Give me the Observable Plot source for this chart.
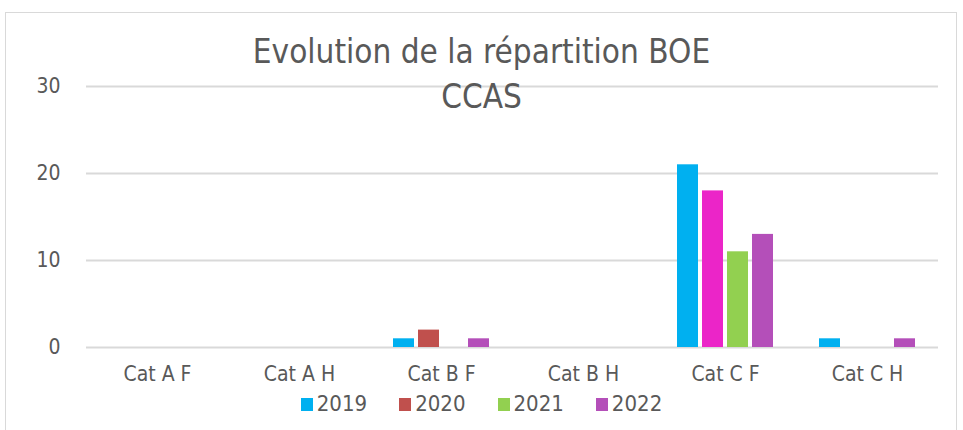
<!DOCTYPE html>
<html>
<head>
<meta charset="utf-8">
<script src="https://cdn.jsdelivr.net/npm/d3@7"></script>
<script src="https://cdn.jsdelivr.net/npm/@observablehq/plot@0.6"></script>
<style>
  html, body { margin: 0; padding: 0; background: #fff; overflow: hidden; }
  #wrap { position: relative; width: 963px; height: 430px; font-family: "DejaVu Sans Condensed", "Liberation Sans Narrow", sans-serif; color: #595959; }
  #frame { position: absolute; left: 5px; top: 12px; width: 952px; height: 430px; border: 1px solid #d9d9d9; box-sizing: border-box; }
  #title { position: absolute; left: 5px; width: 953px; top: 29px; text-align: center; font-size: 33px; line-height: 45px; }
  #legend { position: absolute; left: 5px; width: 953px; top: 392px; display: flex; justify-content: center; font-size: 22px; line-height: 24px; }
  .item { display: flex; align-items: center; margin: 0 16px; }
  .sw { width: 12px; height: 13px; margin-right: 4px; }
  #chart { position: absolute; left: 0; top: 0; }
</style>
</head>
<body>
<div id="wrap">
  <div id="frame"></div>
  <div id="chart"></div>
  <div id="title">Evolution de la répartition BOE<br>CCAS</div>
  <div id="legend"></div>
</div>
<script>
const categories = ["Cat A F", "Cat A H", "Cat B F", "Cat B H", "Cat C F", "Cat C H"];
const years = ["2019", "2020", "2021", "2022"];
const v2019 = [0, 0, 1, 0, 21, 1];
const v2020 = [0, 0, 2, 0, 18, 0];
const v2021 = [0, 0, 0, 0, 11, 0];
const v2022 = [0, 0, 1, 0, 13, 1];
const seriesColors = ["#00B0F0", "#C0504D", "#92D050", "#B44FB9"];
// single point colour override (Cat C F, 2020)
const overrideCategory = "Cat C F";
const overrideYear = "2020";
const overrideColor = "#EB25C8";
const yTicks = [0, 10, 20, 30];

const seriesValues = [v2019, v2020, v2021, v2022];
const data = [];
years.forEach((yr, i) => {
  categories.forEach((cat, j) => {
    const value = seriesValues[i][j];
    const color = (cat === overrideCategory && yr === overrideYear) ? overrideColor : seriesColors[i];
    data.push({cat, year: yr, value, color});
  });
});

const chart = Plot.plot({
  width: 963,
  height: 430,
  marginLeft: 86,
  marginRight: 25,
  marginTop: 86,
  marginBottom: 83,
  style: {fontFamily: '"DejaVu Sans Condensed", "Liberation Sans Narrow", sans-serif', fontSize: "21px", color: "#595959", background: "transparent", overflow: "visible"},
  fx: {domain: categories, padding: 0, label: null, axis: "bottom", tickSize: 0, tickPadding: 19},
  x: {domain: years, paddingInner: 0.18, paddingOuter: 0.85, axis: null},
  y: {domain: [0, 30], axis: null},
  marks: [
    Plot.gridY(yTicks, {stroke: "#d9d9d9", strokeOpacity: 1, strokeWidth: 2}),
    Plot.axisY(yTicks, {tickSize: 0, tickPadding: 26, label: null, fontSize: 21}),
    Plot.barY(data, {fx: "cat", x: "year", y: "value", fill: d => d.color})
  ]
});
document.getElementById("chart").appendChild(chart);

const legend = document.getElementById("legend");
years.forEach((yr, i) => {
  const item = document.createElement("div");
  item.className = "item";
  const sw = document.createElement("div");
  sw.className = "sw";
  sw.style.background = seriesColors[i];
  const t = document.createElement("span");
  t.textContent = yr;
  item.appendChild(sw);
  item.appendChild(t);
  legend.appendChild(item);
});
</script>
</body>
</html>
